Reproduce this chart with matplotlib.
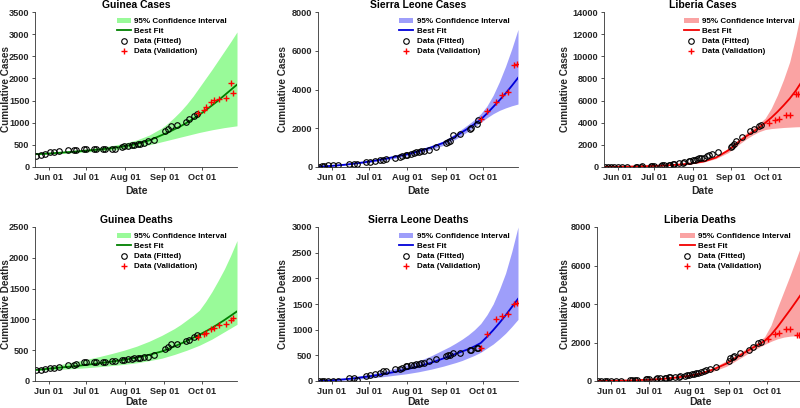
import matplotlib
matplotlib.use("Agg")
import matplotlib.pyplot as plt
import matplotlib.dates as mdates
from matplotlib.patches import Patch
from matplotlib.lines import Line2D
import numpy as np

plt.rcParams['font.family'] = ['Liberation Sans', 'DejaVu Sans']
plt.rcParams['font.weight'] = 'bold'

# days counted from 2014-06-01
start = np.datetime64('2014-06-01')
curve_days = [-10, 0, 10, 20, 30, 40, 50, 60, 70, 80, 90, 95, 100, 105, 110, 115, 120, 125, 130, 135, 140, 145, 150]

# ---- Guinea ----
gn_days = [-10, -6, -3, 1, 4, 8, 15, 20, 22, 28, 30, 36, 38, 43, 45, 50, 53, 58, 60, 63,
           66, 68, 71, 73, 76, 79, 84, 93, 95, 97, 102, 109, 112, 116, 118]
gn_cases = [258, 281, 291, 328, 344, 351, 375, 385, 390, 398, 398, 409, 410, 412, 413, 415, 415, 460, 472, 485,
            495, 506, 519, 523, 543, 579, 607, 812, 862, 936, 942, 1008, 1074, 1157, 1199]
gn_deaths = [174, 186, 193, 208, 215, 222, 264, 267, 270, 303, 305, 309, 310, 311, 314, 319, 325, 339, 346, 358,
             363, 373, 376, 380, 386, 396, 422, 517, 555, 595, 601, 648, 662, 710, 739]
gn_val_days = [119, 124, 125, 129, 132, 136, 141, 145, 147]
gn_val_cases = [1210, 1298, 1350, 1472, 1519, 1540, 1553, 1906, 1667]
gn_val_deaths = [720, 768, 778, 843, 862, 904, 926, 997, 1018]
gn_cases_fit = [290, 305, 325, 345, 370, 395, 425, 465, 520, 600, 720, 780, 850, 920, 1000, 1085, 1180, 1280,
                1390, 1500, 1620, 1740, 1860]
gn_cases_lo = [275, 290, 305, 325, 340, 360, 380, 405, 440, 500, 570, 605, 640, 675, 710, 745, 780, 810,
               840, 865, 890, 910, 930]
gn_cases_hi = [305, 325, 350, 375, 405, 440, 480, 535, 610, 720, 880, 990, 1120, 1260, 1420, 1600, 1800, 2000,
               2200, 2410, 2620, 2830, 3050]
gn_deaths_fit = [180, 200, 220, 240, 262, 287, 315, 345, 380, 425, 480, 518, 560, 605, 650, 700, 750, 805,
                 860, 925, 990, 1060, 1130]
gn_deaths_lo = [170, 180, 190, 202, 215, 232, 250, 270, 295, 330, 370, 400, 430, 465, 500, 540, 580, 630,
                680, 740, 800, 860, 920]
gn_deaths_hi = [195, 230, 270, 310, 350, 395, 445, 500, 565, 645, 740, 795, 850, 915, 990, 1065, 1150, 1290,
                1450, 1630, 1820, 2040, 2280]

# ---- Sierra Leone ----
sl_days = [-10, -8, -6, -3, 1, 5, 14, 18, 20, 28, 31, 35, 39, 41, 44, 51, 55, 57, 60, 61,
           64, 66, 68, 70, 72, 74, 78, 84, 92, 94, 95, 98, 103, 111, 112, 117, 118]
sl_cases = [16, 30, 50, 80, 100, 110, 150, 170, 180, 250, 280, 310, 340, 380, 420, 470, 520, 550, 620, 640,
            690, 720, 760, 780, 820, 850, 900, 1030, 1220, 1300, 1350, 1640, 1680, 1940, 2020, 2210, 2420]
sl_deaths = [5, 5, 6, 6, 7, 8, 60, 65, 20, 100, 110, 130, 150, 195, 200, 227, 240, 260, 290, 292,
             310, 312, 330, 338, 350, 357, 390, 422, 487, 500, 506, 552, 552, 597, 604, 636, 636]
sl_val_days = [120, 125, 132, 137, 142, 147, 149]
sl_val_cases = [2453, 2885, 3369, 3715, 3887, 5270, 5304]
sl_val_deaths = [636, 909, 1201, 1266, 1299, 1506, 1520]
sl_cases_fit = [20, 60, 115, 190, 280, 390, 515, 650, 810, 1010, 1250, 1420, 1600, 1800, 2000, 2220, 2450, 2760,
                3100, 3440, 3800, 4190, 4600]
sl_cases_lo = [10, 40, 90, 160, 230, 320, 440, 560, 710, 900, 1120, 1280, 1450, 1650, 1850, 2070, 2300, 2540,
               2750, 2920, 3050, 3160, 3250]
sl_cases_hi = [30, 80, 140, 220, 320, 450, 580, 720, 900, 1100, 1350, 1540, 1750, 1970, 2200, 2450, 2750, 3150,
               3700, 4400, 5200, 6100, 7100]
sl_deaths_fit = [5, 15, 33, 58, 90, 128, 173, 225, 285, 355, 440, 485, 530, 575, 620, 675, 740, 860,
                 990, 1130, 1280, 1440, 1600]
sl_deaths_lo = [2, 8, 18, 35, 55, 80, 110, 140, 180, 230, 290, 325, 360, 400, 450, 500, 560, 640,
                720, 820, 930, 1060, 1200]
sl_deaths_hi = [8, 25, 50, 90, 130, 180, 240, 310, 390, 490, 610, 670, 740, 815, 900, 1000, 1120, 1290,
                1500, 1780, 2100, 2520, 3000]

# ---- Liberia ----
lr_days = [-10, -8, -5, -3, 0, 4, 8, 15, 16, 19, 20, 27, 28, 30, 35, 36, 38, 42, 43, 45,
           46, 50, 53, 54, 58, 59, 61, 63, 65, 66, 68, 70, 73, 74, 77, 82, 92, 93, 95, 96,
           101, 108, 111, 115, 117]
lr_cases = [12, 13, 13, 13, 13, 13, 13, 16, 33, 41, 51, 81, 107, 115, 131, 142, 172, 196, 224, 249,
            249, 329, 391, 468, 516, 554, 599, 675, 720, 786, 834, 848, 972, 1082, 1200, 1378, 1814, 1900, 2056, 2358,
            2721, 3235, 3477, 3689, 3780]
lr_deaths = [11, 11, 11, 11, 12, 15, 16, 30, 35, 60, 65, 84, 87, 105, 127, 140, 156, 173, 180, 190,
             190, 208, 227, 260, 282, 294, 311, 346, 355, 398, 433, 466, 519, 576, 606, 727, 1039, 1177, 1247, 1299,
             1472, 1593, 1766, 1957, 2043]
lr_val_days = [123, 128, 131, 137, 140, 145, 147]
lr_val_cases = [3931, 4234, 4294, 4687, 4687, 6562, 6562]
lr_val_deaths = [2199, 2458, 2511, 2684, 2705, 2413, 2413]
lr_cases_fit = [10, 20, 38, 65, 100, 150, 215, 320, 500, 850, 1500, 1950, 2400, 2800, 3150, 3550, 3980, 4450,
                4980, 5560, 6180, 6900, 7750]
lr_cases_lo = [5, 15, 30, 55, 85, 130, 190, 280, 440, 760, 1300, 1720, 2150, 2550, 2900, 3180, 3380, 3470,
               3520, 3570, 3600, 3630, 3650]
lr_cases_hi = [15, 25, 46, 75, 120, 175, 245, 370, 570, 950, 1700, 2180, 2650, 3080, 3500, 3920, 4400, 5300,
               6500, 7900, 9500, 11800, 14500]
lr_deaths_fit = [5, 10, 22, 40, 70, 110, 175, 260, 390, 600, 900, 1100, 1300, 1500, 1700, 1880, 2080, 2400,
                 2800, 3250, 3700, 4170, 4650]
lr_deaths_lo = [3, 7, 17, 33, 55, 90, 145, 210, 320, 510, 760, 950, 1150, 1350, 1550, 1730, 1900, 2060,
                2190, 2280, 2330, 2350, 2350]
lr_deaths_hi = [7, 13, 27, 48, 85, 130, 205, 310, 460, 700, 1050, 1250, 1450, 1650, 1850, 2050, 2300, 2900,
                3800, 4650, 5500, 6400, 7300]

green_band, green_line = (0.6, 0.98, 0.6), (0.0, 0.5, 0.0)
blue_band, blue_line = (0.62, 0.62, 0.98), (0.0, 0.0, 0.85)
red_band, red_line = (0.98, 0.64, 0.64), (0.95, 0.0, 0.0)


def d2t(days):
    return start + np.array(days).astype('timedelta64[D]')


def panel(rect, title, ylab, ylab_x, xlab_pad, yticks, fd, fv, vd, vv, fit, lo, hi, band, line):
    ax = fig.add_axes(rect)
    ax.fill_between(d2t(curve_days), lo, hi, color=band, lw=0)
    ax.plot(d2t(curve_days), fit, color=line, lw=1.3)
    ax.plot(d2t(fd), fv, 'o', mfc='none', mec='black', ms=4, mew=0.8)
    ax.plot(d2t(vd), vv, '+', color='red', ms=5, mew=1.0)
    ax.set_xlim(d2t([-11])[0], d2t([150])[0])
    ax.set_ylim(0, yticks[-1])
    ax.set_yticks(yticks)
    ax.set_xticks(d2t([0, 30, 61, 92, 122]))
    ax.xaxis.set_major_formatter(mdates.DateFormatter('%b %d'))
    for s in ['top', 'right']:
        ax.spines[s].set_visible(False)
    for s in ['left', 'bottom']:
        ax.spines[s].set_color('0.2')
        ax.spines[s].set_linewidth(0.6)
    ax.tick_params(direction='out', length=2.5, width=0.6, color='0.2',
                   labelsize=6.6, labelcolor='0.15', pad=1.5)
    ax.set_title(title, fontsize=7.5, fontweight='bold', pad=3)
    ax.set_xlabel('Date', fontsize=7.5, fontweight='bold', color='0.15', labelpad=xlab_pad)
    ax.set_ylabel(ylab, fontsize=7.2, fontweight='bold', color='0.15')
    ax.yaxis.set_label_coords(ylab_x, 0.5)
    handles = [Patch(facecolor=band, edgecolor='none'),
               Line2D([], [], color=line, lw=1.3),
               Line2D([], [], ls='none', marker='o', mfc='none', mec='black', ms=4, mew=0.8),
               Line2D([], [], ls='none', marker='+', color='red', ms=5, mew=1.0)]
    ax.legend(handles, ['95% Confidence Interval', 'Best Fit', 'Data (Fitted)', 'Data (Validation)'],
              loc='upper left', bbox_to_anchor=(0.38, 0.995), frameon=False, fontsize=5.8,
              handlelength=1.8, handletextpad=0.4, labelspacing=0.3, borderpad=0.1)
    return ax


W, H = 800, 408
fig = plt.figure(figsize=(8, 4.08), dpi=100)


def rect(x0, x1, ytop, ybot):
    return [x0 / W, 1 - ybot / H, (x1 - x0) / W, (ybot - ytop) / H]


panel(rect(35, 237, 12, 167), 'Guinea Cases', 'Cumulative Cases', -0.12, 3, list(range(0, 3501, 500)),
      gn_days, gn_cases, gn_val_days, gn_val_cases, gn_cases_fit, gn_cases_lo, gn_cases_hi, green_band, green_line)
panel(rect(318, 518, 12, 167), 'Sierra Leone Cases', 'Cumulative Cases', -0.1475, 3, list(range(0, 8001, 2000)),
      sl_days, sl_cases, sl_val_days, sl_val_cases, sl_cases_fit, sl_cases_lo, sl_cases_hi, blue_band, blue_line)
panel(rect(604, 802, 12, 167), 'Liberia Cases', 'Cumulative Cases', -0.174, 3, list(range(0, 14001, 2000)),
      lr_days, lr_cases, lr_val_days, lr_val_cases, lr_cases_fit, lr_cases_lo, lr_cases_hi, red_band, red_line)
panel(rect(35, 237, 227, 381), 'Guinea Deaths', 'Cumulative Deaths', -0.12, 1, list(range(0, 2501, 500)),
      gn_days, gn_deaths, gn_val_days, gn_val_deaths, gn_deaths_fit, gn_deaths_lo, gn_deaths_hi, green_band, green_line)
panel(rect(318, 518, 227, 381), 'Sierra Leone Deaths', 'Cumulative Deaths', -0.1475, 1, list(range(0, 3001, 500)),
      sl_days, sl_deaths, sl_val_days, sl_val_deaths, sl_deaths_fit, sl_deaths_lo, sl_deaths_hi, blue_band, blue_line)
panel(rect(597, 803, 227, 381), 'Liberia Deaths', 'Cumulative Deaths', -0.133, 1, list(range(0, 8001, 2000)),
      lr_days, lr_deaths, lr_val_days, lr_val_deaths, lr_deaths_fit, lr_deaths_lo, lr_deaths_hi, red_band, red_line)

fig.savefig('out.png', dpi=100)
